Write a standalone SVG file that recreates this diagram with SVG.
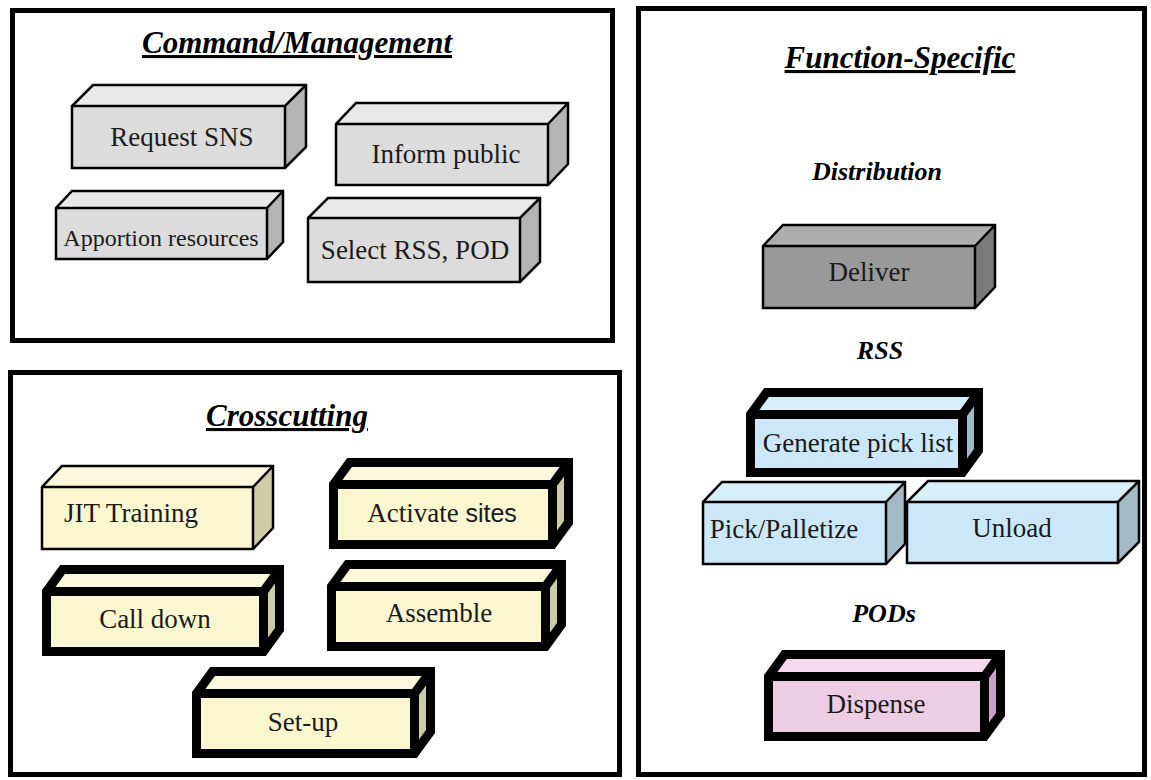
<svg xmlns="http://www.w3.org/2000/svg" width="1151" height="780" viewBox="0 0 1151 780">
  <style>
    .panel { fill: #ffffff; stroke: #000000; stroke-width: 5; }
    .title { font-family: "Liberation Serif", "Times New Roman", serif; font-weight: bold; font-style: italic; font-size: 31px; fill: #000000; text-anchor: middle; text-decoration: underline; }
    .sub { font-family: "Liberation Serif", "Times New Roman", serif; font-weight: bold; font-style: italic; font-size: 26px; fill: #000000; text-anchor: middle; }
    .lbl { font-family: "Liberation Serif", "Times New Roman", serif; font-size: 27px; fill: #1a1a1a; text-anchor: middle; }
    .edge { fill: none; stroke: #000000; stroke-linejoin: miter; stroke-linecap: butt; }
    .thin .edge { stroke-width: 2.5; }
    .thick .edge { stroke-width: 9; }
    .gray .front { fill: #dcdcdc; } .gray .top { fill: #e8e8e8; } .gray .side { fill: #b4b4b4; }
    .dark .front { fill: #999999; } .dark .top { fill: #aeaeae; } .dark .side { fill: #7a7a7a; }
    .yellow .front { fill: #faf6cf; } .yellow .top { fill: #fbf8dc; } .yellow .side { fill: #cdcca6; }
    .blue .front { fill: #cce8f8; } .blue .top { fill: #d8eef9; } .blue .side { fill: #a4bac7; }
    .pink .front { fill: #edcde3; } .pink .top { fill: #f3d9eb; } .pink .side { fill: #c9a1c2; }
  </style>

  <!-- panels -->
  <g id="panel-command">
    <rect class="panel" x="12.5" y="10.5" width="600" height="330"/>
    <text class="title" x="297" y="53">Command/Management</text>
  </g>
  <g id="panel-crosscutting">
    <rect class="panel" x="10.5" y="372.5" width="609" height="402"/>
    <text class="title" x="287" y="426">Crosscutting</text>
  </g>
  <g id="panel-function">
    <rect class="panel" x="638.5" y="8.5" width="506" height="766"/>
    <text class="title" x="900" y="68">Function-Specific</text>
    <text class="sub" x="877" y="180">Distribution</text>
    <text class="sub" x="880" y="359">RSS</text>
    <text class="sub" x="884" y="622">PODs</text>
  </g>

  <!-- Command/Management boxes -->
  <g id="request-sns" class="gray thin">
    <polygon class="top" points="72,106 93,85 306,85 285,106"/>
    <polygon class="side" points="285,106 306,85 306,147 285,168"/>
    <rect class="front" x="72" y="106" width="213" height="62"/>
    <path class="edge" d="M72,168 L72,106 L93,85 L306,85 L306,147 L285,168 Z M72,106 L285,106 L306,85 M285,106 L285,168"/>
    <text class="lbl" x="182" y="146">Request SNS</text>
  </g>
  <g id="inform-public" class="gray thin">
    <polygon class="top" points="336,124 356,103 568,103 548,124"/>
    <polygon class="side" points="548,124 568,103 568,164 548,185"/>
    <rect class="front" x="336" y="124" width="212" height="61"/>
    <path class="edge" d="M336,185 L336,124 L356,103 L568,103 L568,164 L548,185 Z M336,124 L548,124 L568,103 M548,124 L548,185"/>
    <text class="lbl" x="446" y="163">Inform public</text>
  </g>
  <g id="apportion-resources" class="gray thin">
    <polygon class="top" points="56,208 72,191 283,191 267,208"/>
    <polygon class="side" points="267,208 283,191 283,242 267,259"/>
    <rect class="front" x="56" y="208" width="211" height="51"/>
    <path class="edge" d="M56,259 L56,208 L72,191 L283,191 L283,242 L267,259 Z M56,208 L267,208 L283,191 M267,208 L267,259"/>
    <text class="lbl" x="161" y="246" style="font-size:24px">Apportion resources</text>
  </g>
  <g id="select-rss-pod" class="gray thin">
    <polygon class="top" points="308,218 328,198 540,198 520,218"/>
    <polygon class="side" points="520,218 540,198 540,262 520,282"/>
    <rect class="front" x="308" y="218" width="212" height="64"/>
    <path class="edge" d="M308,282 L308,218 L328,198 L540,198 L540,262 L520,282 Z M308,218 L520,218 L540,198 M520,218 L520,282"/>
    <text class="lbl" x="415" y="259">Select RSS, POD</text>
  </g>

  <!-- Crosscutting boxes -->
  <g id="jit-training" class="yellow thin">
    <polygon class="top" points="42,487 62,466 273,466 253,487"/>
    <polygon class="side" points="253,487 273,466 273,528 253,549"/>
    <rect class="front" x="42" y="487" width="211" height="62"/>
    <path class="edge" d="M42,549 L42,487 L62,466 L273,466 L273,528 L253,549 Z M42,487 L253,487 L273,466 M253,487 L253,549"/>
    <text class="lbl" x="131" y="522">JIT Training</text>
  </g>
  <g id="activate-sites" class="yellow thick">
    <polygon class="top" points="333.5,484.5 349.5,462.5 568.5,462.5 552.5,484.5"/>
    <polygon class="side" points="552.5,484.5 568.5,462.5 568.5,522.5 552.5,544.5"/>
    <rect class="front" x="333.5" y="484.5" width="219" height="60"/>
    <path class="edge" d="M333.5,544.5 L333.5,484.5 L349.5,462.5 L568.5,462.5 L568.5,522.5 L552.5,544.5 Z M333.5,484.5 L552.5,484.5 L568.5,462.5 M552.5,484.5 L552.5,544.5"/>
    <text class="lbl" x="442" y="522">Activate <tspan style="font-family:'Liberation Sans', Arial, sans-serif;font-size:25px">sites</tspan></text>
  </g>
  <g id="call-down" class="yellow thick">
    <polygon class="top" points="46.5,591.5 62.5,569.5 279.5,569.5 263.5,591.5"/>
    <polygon class="side" points="263.5,591.5 279.5,569.5 279.5,629.5 263.5,651.5"/>
    <rect class="front" x="46.5" y="591.5" width="217" height="60"/>
    <path class="edge" d="M46.5,651.5 L46.5,591.5 L62.5,569.5 L279.5,569.5 L279.5,629.5 L263.5,651.5 Z M46.5,591.5 L263.5,591.5 L279.5,569.5 M263.5,591.5 L263.5,651.5"/>
    <text class="lbl" x="155" y="628">Call down</text>
  </g>
  <g id="assemble" class="yellow thick">
    <polygon class="top" points="331.5,586.5 347.5,564.5 561.5,564.5 545.5,586.5"/>
    <polygon class="side" points="545.5,586.5 561.5,564.5 561.5,624.5 545.5,646.5"/>
    <rect class="front" x="331.5" y="586.5" width="214" height="60"/>
    <path class="edge" d="M331.5,646.5 L331.5,586.5 L347.5,564.5 L561.5,564.5 L561.5,624.5 L545.5,646.5 Z M331.5,586.5 L545.5,586.5 L561.5,564.5 M545.5,586.5 L545.5,646.5"/>
    <text class="lbl" x="439" y="622">Assemble</text>
  </g>
  <g id="set-up" class="yellow thick">
    <polygon class="top" points="196.5,693.5 212.5,671.5 430.5,671.5 414.5,693.5"/>
    <polygon class="side" points="414.5,693.5 430.5,671.5 430.5,731.5 414.5,753.5"/>
    <rect class="front" x="196.5" y="693.5" width="218" height="60"/>
    <path class="edge" d="M196.5,753.5 L196.5,693.5 L212.5,671.5 L430.5,671.5 L430.5,731.5 L414.5,753.5 Z M196.5,693.5 L414.5,693.5 L430.5,671.5 M414.5,693.5 L414.5,753.5"/>
    <text class="lbl" x="303" y="731">Set-up</text>
  </g>

  <!-- Function-specific boxes -->
  <g id="deliver" class="dark thin">
    <polygon class="top" points="763,246 783,225 995,225 975,246"/>
    <polygon class="side" points="975,246 995,225 995,287 975,308"/>
    <rect class="front" x="763" y="246" width="212" height="62"/>
    <path class="edge" d="M763,308 L763,246 L783,225 L995,225 L995,287 L975,308 Z M763,246 L975,246 L995,225 M975,246 L975,308"/>
    <text class="lbl" x="869" y="281">Deliver</text>
  </g>
  <g id="pick-palletize" class="blue thin">
    <polygon class="top" points="703,502 722,482 905,482 886,502"/>
    <polygon class="side" points="886,502 905,482 905,544 886,564"/>
    <rect class="front" x="703" y="502" width="183" height="62"/>
    <path class="edge" d="M703,564 L703,502 L722,482 L905,482 L905,544 L886,564 Z M703,502 L886,502 L905,482 M886,502 L886,564"/>
    <text class="lbl" x="784" y="538">Pick/Palletize</text>
  </g>
  <g id="unload" class="blue thin">
    <polygon class="top" points="907,502 928,481 1139,481 1118,502"/>
    <polygon class="side" points="1118,502 1139,481 1139,542 1118,563"/>
    <rect class="front" x="907" y="502" width="211" height="61"/>
    <path class="edge" d="M907,563 L907,502 L928,481 L1139,481 L1139,542 L1118,563 Z M907,502 L1118,502 L1139,481 M1118,502 L1118,563"/>
    <text class="lbl" x="1012" y="537">Unload</text>
  </g>
  <g id="generate-pick-list" class="blue thick">
    <polygon class="top" points="750.5,414.5 766.5,392.5 978.5,392.5 962.5,414.5"/>
    <polygon class="side" points="962.5,414.5 978.5,392.5 978.5,450.5 962.5,472.5"/>
    <rect class="front" x="750.5" y="414.5" width="212" height="58"/>
    <path class="edge" d="M750.5,472.5 L750.5,414.5 L766.5,392.5 L978.5,392.5 L978.5,450.5 L962.5,472.5 Z M750.5,414.5 L962.5,414.5 L978.5,392.5 M962.5,414.5 L962.5,472.5"/>
    <text class="lbl" x="858" y="452">Generate pick list</text>
  </g>
  <g id="dispense" class="pink thick">
    <polygon class="top" points="768.5,676.5 784.5,654.5 1000.5,654.5 984.5,676.5"/>
    <polygon class="side" points="984.5,676.5 1000.5,654.5 1000.5,714.5 984.5,736.5"/>
    <rect class="front" x="768.5" y="676.5" width="216" height="60"/>
    <path class="edge" d="M768.5,736.5 L768.5,676.5 L784.5,654.5 L1000.5,654.5 L1000.5,714.5 L984.5,736.5 Z M768.5,676.5 L984.5,676.5 L1000.5,654.5 M984.5,676.5 L984.5,736.5"/>
    <text class="lbl" x="876" y="713">Dispense</text>
  </g>

  <!-- no connectors in this diagram -->
  <g id="connectors"/>
</svg>
